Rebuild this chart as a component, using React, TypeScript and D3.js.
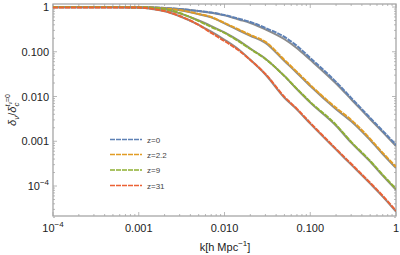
import React, { useRef, useEffect } from "react";
import * as d3 from "d3";

// wavenumbers k [h/Mpc]
const kValues = [1e-4, 3e-4, 1e-3, 1.5e-3, 2e-3, 3e-3, 5e-3, 7e-3, 0.01, 0.015, 0.02, 0.03, 0.05, 0.07, 0.1, 0.2, 0.3, 0.5, 0.7, 1];

// dashed (coloured) curves
const z0 = [1, 1, 0.99, 0.975, 0.95, 0.9, 0.814, 0.754, 0.663, 0.54, 0.463, 0.34, 0.214, 0.135, 0.0727, 0.0212, 0.0093, 0.00333, 0.00171, 0.00083];
const z22 = [1, 1, 0.99, 0.965, 0.926, 0.857, 0.698, 0.598, 0.44, 0.307, 0.237, 0.166, 0.0656, 0.0354, 0.01815, 0.00557, 0.003, 0.00113, 0.00055, 0.000268];
const z9 = [1, 1, 0.99, 0.955, 0.902, 0.735, 0.487, 0.358, 0.263, 0.166, 0.115, 0.069, 0.0288, 0.0148, 0.00757, 0.00232, 0.00097, 0.000365, 0.000178, 8.66e-5];
const z31 = [0.98, 0.98, 0.97, 0.9, 0.814, 0.63, 0.397, 0.263, 0.174, 0.104, 0.0656, 0.0319, 0.0098, 0.00529, 0.00258, 0.000676, 0.000313, 0.000118, 6.04e-5, 2.79e-5];

// solid (gray) curves
const z0Exact = [1, 1, 0.99, 0.975, 0.95, 0.9, 0.81, 0.745, 0.65, 0.52, 0.44, 0.315, 0.19, 0.12, 0.066, 0.0195, 0.0087, 0.0031, 0.0016, 0.00078];
const z22Exact = [1, 1, 0.99, 0.96, 0.92, 0.85, 0.69, 0.585, 0.43, 0.295, 0.228, 0.158, 0.062, 0.0335, 0.0171, 0.0052, 0.0028, 0.00106, 0.00052, 0.000252];
const z9Exact = [1, 1, 0.99, 0.945, 0.89, 0.72, 0.5, 0.375, 0.27, 0.172, 0.118, 0.07, 0.0285, 0.0145, 0.0073, 0.00222, 0.00093, 0.00035, 0.00017, 8.2e-5];
const z31Exact = [0.98, 0.98, 0.97, 0.89, 0.8, 0.62, 0.4, 0.28, 0.185, 0.108, 0.066, 0.031, 0.0094, 0.0051, 0.00247, 0.00065, 0.0003, 0.000113, 5.8e-5, 2.67e-5];

const seriesNames = ["z=0", "z=2.2", "z=9", "z=31"];
const seriesColors = ["#5e81b5", "#e19c24", "#8fb032", "#eb6235"];

const xTicks = [1e-4, 1e-3, 1e-2, 1e-1, 1];
const xTickLabels = ["10^-4", "0.001", "0.010", "0.100", "1"];
const yTicks = [1, 0.1, 0.01, 0.001, 1e-4];
const yTickLabels = ["1", "0.100", "0.010", "0.001", "10^-4"];

const App = () => {
  const svgRef = useRef<SVGSVGElement>(null);

  useEffect(() => {
    const width = 400;
    const height = 255;
    const left = 53, right = 396, top = 4, bottom = 216;

    const svg = d3.select(svgRef.current);
    svg.selectAll("*").remove();

    const x = d3.scaleLog().domain([1e-4, 1]).range([left, right]);
    const y = d3.scaleLog().domain([1e-4, 1]).range([186, 7]);

    const font = "'Liberation Sans', Arial, sans-serif";

    svg.append("defs").append("clipPath").attr("id", "plotclip")
      .append("rect")
      .attr("x", left).attr("y", top)
      .attr("width", right - left).attr("height", bottom - top);

    // frame
    svg.append("rect")
      .attr("x", left).attr("y", top)
      .attr("width", right - left).attr("height", bottom - top)
      .attr("fill", "none")
      .attr("stroke", "#a6a6a6")
      .attr("stroke-width", 1.3);

    // ticks (inward, all sides)
    const ticksG = svg.append("g").attr("stroke", "#a6a6a6").attr("stroke-width", 0.8);
    const minorX: number[] = [];
    for (let e = -4; e < 0; e++) for (let m = 2; m <= 9; m++) minorX.push(m * Math.pow(10, e));
    const yMin = Math.pow(10, -4.7), yMax = Math.pow(10, 0.067);
    const minorY: number[] = [];
    for (let e = -5; e < 1; e++) for (let m = 2; m <= 9; m++) {
      const v = m * Math.pow(10, e);
      if (v > yMin && v < yMax) minorY.push(v);
    }
    xTicks.forEach(t => {
      ticksG.append("line").attr("x1", x(t)).attr("x2", x(t)).attr("y1", bottom).attr("y2", bottom - 4);
      ticksG.append("line").attr("x1", x(t)).attr("x2", x(t)).attr("y1", top).attr("y2", top + 4);
    });
    minorX.forEach(t => {
      ticksG.append("line").attr("x1", x(t)).attr("x2", x(t)).attr("y1", bottom).attr("y2", bottom - 2);
      ticksG.append("line").attr("x1", x(t)).attr("x2", x(t)).attr("y1", top).attr("y2", top + 2);
    });
    yTicks.forEach(t => {
      ticksG.append("line").attr("x1", left).attr("x2", left + 4).attr("y1", y(t)).attr("y2", y(t));
      ticksG.append("line").attr("x1", right).attr("x2", right - 4).attr("y1", y(t)).attr("y2", y(t));
    });
    minorY.forEach(t => {
      ticksG.append("line").attr("x1", left).attr("x2", left + 2).attr("y1", y(t)).attr("y2", y(t));
      ticksG.append("line").attr("x1", right).attr("x2", right - 2).attr("y1", y(t)).attr("y2", y(t));
    });

    // tick labels
    const addLabel = (g: any, label: string) => {
      if (label.includes("^")) {
        const [base, exp] = label.split("^");
        g.append("tspan").text(base);
        g.append("tspan").attr("dy", -5).attr("font-size", 8).text(exp.replace("-", "\u2212"));
      } else {
        g.text(label);
      }
    };
    xTicks.forEach((t, i) => {
      const txt = svg.append("text")
        .attr("x", x(t)).attr("y", 232)
        .attr("text-anchor", "middle")
        .attr("font-family", font).attr("font-size", 11).attr("fill", "#222");
      addLabel(txt, xTickLabels[i]);
    });
    yTicks.forEach((t, i) => {
      const txt = svg.append("text")
        .attr("x", 49).attr("y", y(t) + 4)
        .attr("text-anchor", "end")
        .attr("font-family", font).attr("font-size", 11).attr("fill", "#222");
      addLabel(txt, yTickLabels[i]);
    });

    // axis titles
    const xt = svg.append("text")
      .attr("x", 225).attr("y", 251)
      .attr("text-anchor", "middle")
      .attr("font-family", font).attr("font-size", 11).attr("fill", "#222");
    xt.append("tspan").text("k[h Mpc");
    xt.append("tspan").attr("dy", -5).attr("font-size", 8).text("\u22121");
    xt.append("tspan").attr("dy", 5).text("]");

    const yt = svg.append("text")
      .attr("transform", "translate(16,110) rotate(-90)")
      .attr("text-anchor", "middle")
      .attr("font-family", font).attr("font-size", 11).attr("fill", "#222");
    yt.append("tspan").attr("font-style", "italic").text("\u03b4");
    yt.append("tspan").attr("dy", 3).attr("font-size", 8).attr("font-style", "italic").text("\u03bd");
    yt.append("tspan").attr("dy", -3).text("/");
    yt.append("tspan").attr("font-style", "italic").text("\u03b4");
    yt.append("tspan").attr("dy", 3).attr("font-size", 8).attr("font-style", "italic").text("c");
    yt.append("tspan").attr("dy", -9).attr("dx", -4).attr("font-size", 7).attr("font-style", "italic").text("t");
    yt.append("tspan").attr("dy", 2).attr("font-size", 5).attr("font-style", "italic").text("\u03bd");
    yt.append("tspan").attr("dy", -2).attr("font-size", 7).text("=0");

    // curves
    const line = d3.line<number>()
      .x((_, i) => x(kValues[i]))
      .y(d => y(d))
      .curve(d3.curveMonotoneX);

    const plot = svg.append("g").attr("clip-path", "url(#plotclip)");
    [z0Exact, z22Exact, z9Exact, z31Exact].forEach(s => {
      plot.append("path")
        .attr("d", line(s))
        .attr("fill", "none")
        .attr("stroke", "#8c8c8c")
        .attr("stroke-width", 2);
    });
    [z0, z22, z9, z31].forEach((s, i) => {
      plot.append("path")
        .attr("d", line(s))
        .attr("fill", "none")
        .attr("stroke", seriesColors[i])
        .attr("stroke-width", 2)
        .attr("stroke-dasharray", "5,1");
    });

    // legend
    const legendY = [139.5, 154.5, 170, 185.5];
    seriesNames.forEach((name, i) => {
      svg.append("line")
        .attr("x1", 110).attr("x2", 142)
        .attr("y1", legendY[i]).attr("y2", legendY[i])
        .attr("stroke", seriesColors[i])
        .attr("stroke-width", 1.6)
        .attr("stroke-dasharray", "5,1");
      svg.append("text")
        .attr("x", 147).attr("y", legendY[i] + 3)
        .attr("font-family", font).attr("font-size", 8).attr("fill", "#444")
        .text(name);
    });

    svg.attr("width", width).attr("height", height);
  }, []);

  return (
    <svg
      ref={svgRef}
      width={400}
      height={255}
      style={{ position: "absolute", left: 0, top: 0, background: "white" }}
    ></svg>
  );
};

export default App;
